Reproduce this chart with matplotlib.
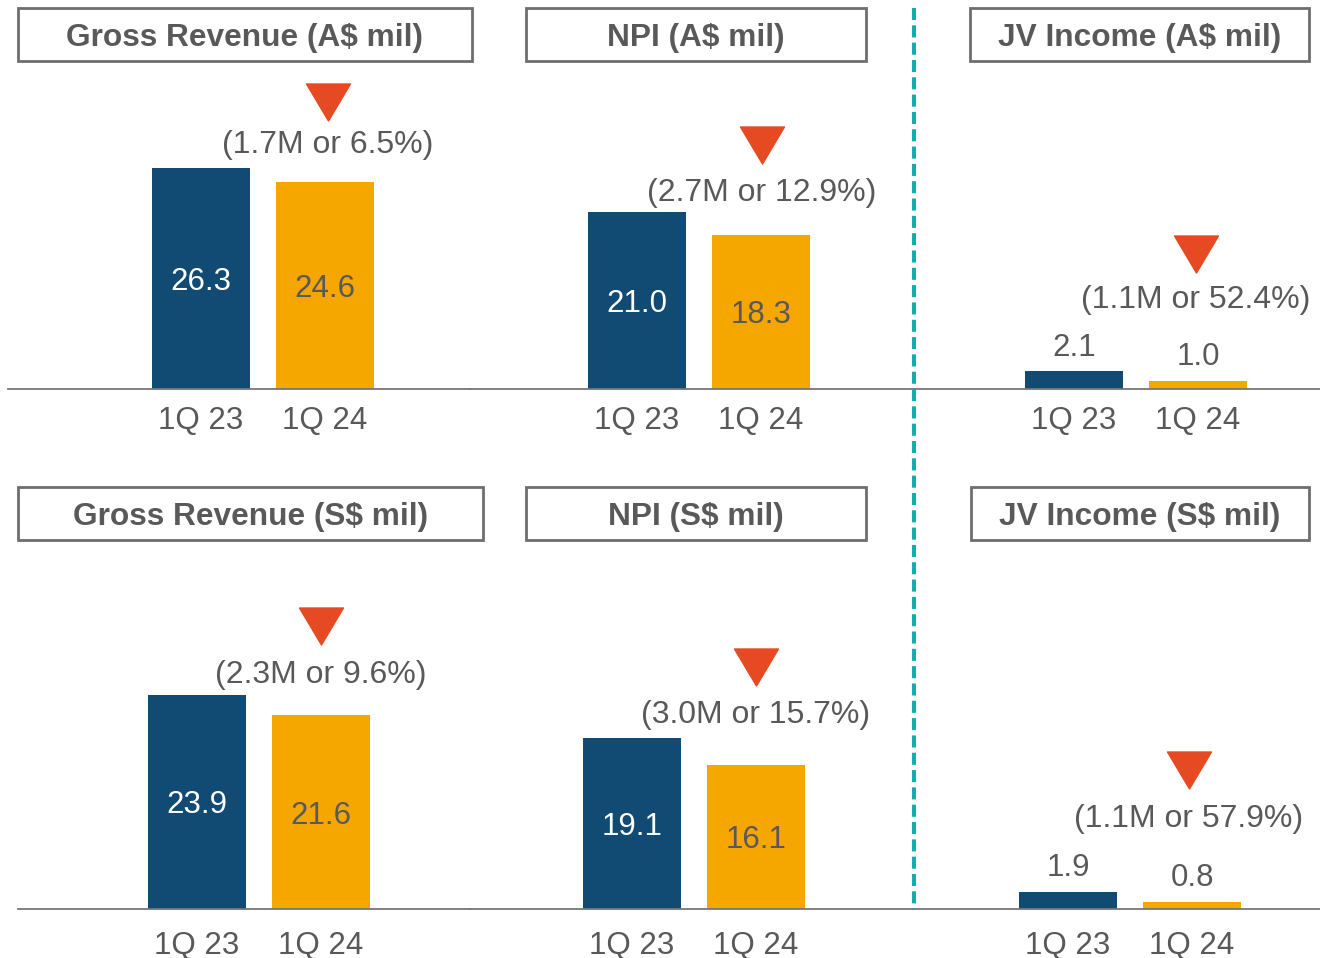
import matplotlib
matplotlib.use('Agg')
import matplotlib.pyplot as plt
from matplotlib.patches import Rectangle
from matplotlib.lines import Line2D
from matplotlib.path import Path
from matplotlib.transforms import offset_copy

plt.rcParams['font.family'] = ['Liberation Sans', 'DejaVu Sans']

# data
periods = ['1Q 23', '1Q 24']
titles = ['Gross Revenue (A$ mil)', 'NPI (A$ mil)', 'JV Income (A$ mil)',
          'Gross Revenue (S$ mil)', 'NPI (S$ mil)', 'JV Income (S$ mil)']
values_1q23 = [26.3, 21.0, 2.1, 23.9, 19.1, 1.9]
values_1q24 = [24.6, 18.3, 1.0, 21.6, 16.1, 0.8]
changes = ['(1.7M or 6.5%)', '(2.7M or 12.9%)', '(1.1M or 52.4%)',
           '(2.3M or 9.6%)', '(3.0M or 15.7%)', '(1.1M or 57.9%)']

BLUE = '#114B73'
ORANGE = '#F5A700'
RED = '#E64A22'
TEAL = '#14ADAE'
GREY = '#595959'

W, H = 1320, 958

# layout in pixels: axes (x0, x1, ytop, ybase), first bar centre, px per unit
axes_px = [(8, 470, 70, 389), (470, 914, 70, 389), (914, 1320, 70, 389),
           (18, 470, 550, 909), (470, 914, 550, 909), (914, 1320, 550, 909)]
centres = [201, 637, 1074, 197, 632, 1068]
scales = [8.42, 8.42, 8.42, 8.97, 8.97, 8.97]
boxes = [(18, 472, 8, 61), (526, 866, 8, 61), (970, 1309, 8, 61),
         (18, 483, 487, 540), (526, 866, 487, 540), (971, 1309, 487, 540)]
inside = [True, True, False, True, True, False]
tri_off = [80, 90, 127, 89, 98, 132]
txt_off = [40, 45, 84, 44, 53, 86]
txt_dx = [3, 1, -2, 0, 0, -3]
tick_pad = [12.5, 12.5, 12.5, 15.5, 15.5, 15.5]
STEP = 124.0

tri = Path([(-1, 0.84), (1, 0.84), (0, -0.84), (-1, 0.84)],
           [Path.MOVETO, Path.LINETO, Path.LINETO, Path.CLOSEPOLY])

fig = plt.figure(figsize=(W / 100, H / 100), dpi=100)

for i in range(6):
    x0, x1, yt, yb = axes_px[i]
    ax = fig.add_axes([x0 / W, 1 - yb / H, (x1 - x0) / W, (yb - yt) / H])
    vals = [values_1q23[i], values_1q24[i]]
    ax.bar([0, 1], vals, width=98 / STEP, color=[BLUE, ORANGE])
    cx = centres[i]
    ax.set_xlim((x0 - cx) / STEP, (x1 - cx) / STEP)
    ax.set_ylim(0, (yb - yt) / scales[i])
    for s in ['left', 'right', 'top']:
        ax.spines[s].set_visible(False)
    ax.spines['bottom'].set_color('#767676')
    ax.spines['bottom'].set_linewidth(1.3)
    ax.spines['bottom'].set_capstyle('projecting')
    ax.set_yticks([])
    ax.set_xticks([0, 1], periods)
    ax.tick_params(axis='x', length=0, pad=tick_pad[i], labelsize=22.5, labelcolor=GREY)
    for lab in ax.get_xticklabels():
        lab.set_x(lab.get_position()[0])

    for j, v in enumerate(vals):
        if inside[i]:
            ax.text(j, v / 2, f'{v:.1f}', ha='center', va='center_baseline', fontsize=22.5,
                    color='white' if j == 0 else GREY)
        else:
            ax.annotate(f'{v:.1f}', (j, v), xytext=(0, 27), textcoords='offset pixels',
                        ha='center', va='center_baseline', fontsize=22.5, color=GREY)

    # decline marker and label above the 1Q 24 bar
    tr = offset_copy(ax.transData, fig=fig, x=txt_dx[i], y=tri_off[i], units='dots')
    ax.plot([1], [vals[1]], marker=tri, markersize=31.7, color=RED, linestyle='none',
            transform=tr, clip_on=False)
    ax.annotate(changes[i], (1, vals[1]), xytext=(txt_dx[i], txt_off[i]),
                textcoords='offset pixels', ha='center', va='center_baseline', fontsize=23,
                color=GREY, annotation_clip=False)

    bx0, bx1, by0, by1 = boxes[i]
    fig.add_artist(Rectangle((bx0 / W, 1 - by1 / H), (bx1 - bx0) / W, (by1 - by0) / H,
                             transform=fig.transFigure, fill=False, ec='#6e6e6e', lw=2))
    fig.text((bx0 + bx1) / 2 / W, 1 - (by0 + by1) / 2 / H, titles[i], ha='center',
             va='center_baseline', fontsize=22.8, fontweight='bold', color=GREY)

fig.add_artist(Line2D([914 / W, 914 / W], [1 - 8 / H, 1 - 910 / H], color=TEAL, lw=2.9,
                      linestyle=(0, (3, 1.3))))

fig.savefig('out.png', dpi=100)
